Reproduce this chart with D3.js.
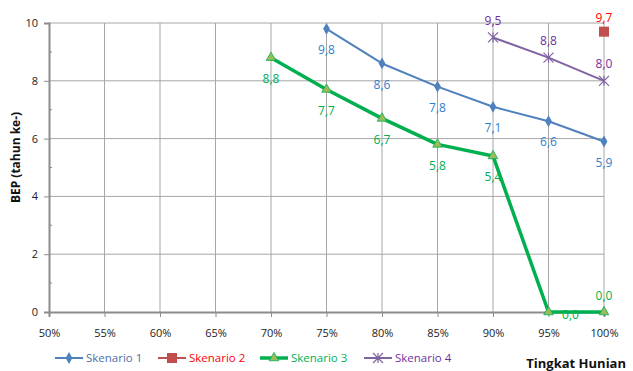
<!DOCTYPE html>
<html>
<head>
<meta charset="utf-8">
<script src="https://cdn.jsdelivr.net/npm/d3@7"></script>
<style>
  html, body { margin: 0; padding: 0; background: #fff; }
  svg { display: block; }
  text { font-family: "Open Sans", "Liberation Sans", sans-serif; }
</style>
</head>
<body>
<svg id="chart" width="633" height="371"></svg>
<script>
// Occupancy levels (x) and BEP year (y) for each scenario
const occupancy = [0.50, 0.55, 0.60, 0.65, 0.70, 0.75, 0.80, 0.85, 0.90, 0.95, 1.00];
const xTickLabels = ["50%", "55%", "60%", "65%", "70%", "75%", "80%", "85%", "90%", "95%", "100%"];
const yTicks = [0, 2, 4, 6, 8, 10];

const skenario1X = [0.75, 0.80, 0.85, 0.90, 0.95, 1.00];
const skenario1Y = [9.8, 8.6, 7.8, 7.1, 6.6, 5.9];
const skenario2X = [1.00];
const skenario2Y = [9.7];
const skenario3X = [0.70, 0.75, 0.80, 0.85, 0.90, 0.95, 1.00];
const skenario3Y = [8.8, 7.7, 6.7, 5.8, 5.4, 0.0, 0.0];
const skenario4X = [0.90, 0.95, 1.00];
const skenario4Y = [9.5, 8.8, 8.0];
const seriesNames = ["Skenario 1", "Skenario 2", "Skenario 3", "Skenario 4"];

const svg = d3.select("#chart");
const plotLeft = 49, plotRight = 604, plotTop = 23, plotBottom = 312;

const x = d3.scaleLinear().domain([0.5, 1.0]).range([plotLeft, plotRight]);
const y = d3.scaleLinear().domain([0, 10]).range([plotBottom, plotTop]);

const gridColor = "#a6a6a6";
const axisColor = "#8c8c8c";

// Gridlines
svg.append("g").selectAll("line").data(occupancy.slice(1)).join("line")
  .attr("x1", d => x(d)).attr("x2", d => x(d))
  .attr("y1", plotTop).attr("y2", plotBottom)
  .attr("stroke", gridColor).attr("stroke-width", 1);
svg.append("g").selectAll("line").data(yTicks.slice(1)).join("line")
  .attr("x1", plotLeft).attr("x2", plotRight)
  .attr("y1", d => y(d)).attr("y2", d => y(d))
  .attr("stroke", gridColor).attr("stroke-width", 1);

// Y axis
const yAxis = d3.axisLeft(y).tickValues(yTicks).tickSize(5).tickPadding(6).tickFormat(d3.format("d"));
const gy = svg.append("g").attr("transform", `translate(${plotLeft},0)`).call(yAxis);
gy.select(".domain").attr("stroke", axisColor).attr("stroke-width", 2);
gy.selectAll(".tick line").attr("stroke", axisColor);
gy.selectAll(".tick text").attr("font-size", 11).attr("fill", "#222");
// minor ticks
svg.append("g").selectAll("line").data([1, 3, 5, 7, 9]).join("line")
  .attr("x1", plotLeft).attr("x2", plotLeft + 3)
  .attr("y1", d => y(d)).attr("y2", d => y(d))
  .attr("stroke", axisColor);

// X axis
const xAxis = d3.axisBottom(x).tickValues(occupancy).tickSize(5).tickPadding(12)
  .tickFormat((d, i) => xTickLabels[i]);
const gx = svg.append("g").attr("transform", `translate(0,${plotBottom})`).call(xAxis);
gx.select(".domain").attr("stroke", axisColor).attr("stroke-width", 2);
gx.selectAll(".tick line").attr("stroke", axisColor);
gx.selectAll(".tick text").attr("font-size", 11).attr("fill", "#222");

// Axis titles
svg.append("text")
  .attr("transform", `translate(20,${(plotTop + plotBottom) / 2 - 10}) rotate(-90)`)
  .attr("text-anchor", "middle").attr("font-size", 12).attr("font-weight", "bold").attr("fill", "#111")
  .text("BEP (tahun ke-)");
svg.append("text")
  .attr("x", 626).attr("y", 368).attr("text-anchor", "end")
  .attr("font-size", 13).attr("font-weight", "bold").attr("fill", "#111")
  .text("Tingkat Hunian");

const line = d3.line().x(d => x(d[0])).y(d => y(d[1]));
const fmt = v => d3.format(".1f")(v).replace(".", ",");

function drawMarker(g, type, cx, cy, color, fill) {
  if (type === "diamond") {
    g.append("path").attr("d", d3.symbol(d3.symbolDiamond, 40)())
      .attr("transform", `translate(${cx},${cy})`).attr("fill", color);
  } else if (type === "square") {
    g.append("rect").attr("x", cx - 5).attr("y", cy - 5).attr("width", 10).attr("height", 10).attr("fill", color);
  } else if (type === "triangle") {
    g.append("path").attr("d", d3.symbol(d3.symbolTriangle, 40)())
      .attr("transform", `translate(${cx},${cy})`).attr("fill", fill).attr("stroke", color).attr("stroke-width", 0.8);
  } else if (type === "star") {
    const r = 5;
    g.append("path")
      .attr("d", `M${cx - r},${cy - r}L${cx + r},${cy + r}M${cx - r},${cy + r}L${cx + r},${cy - r}M${cx},${cy - r}L${cx},${cy + r}`)
      .attr("stroke", color).attr("stroke-width", 1.2).attr("fill", "none");
  }
}

const series = [
  { xs: skenario1X, ys: skenario1Y, color: "#4f81bd", label: "#2f7fcf", width: 2, marker: "diamond", dy: d => 21, dx: () => 0 },
  { xs: skenario2X, ys: skenario2Y, color: "#c0504d", label: "#ff0000", width: 2, marker: "square", dy: d => -14, dx: () => 0 },
  { xs: skenario3X, ys: skenario3Y, color: "#00b050", label: "#00b050", width: 3.5, marker: "triangle", fill: "#9bbb59",
    dy: (d, i) => i === 6 ? -16 : (i === 5 ? 3 : 21), dx: (d, i) => i === 5 ? 22 : 0 },
  { xs: skenario4X, ys: skenario4Y, color: "#8064a2", label: "#7030a0", width: 2, marker: "star", dy: d => -17, dx: () => 0 }
];

series.forEach(s => {
  const pts = s.xs.map((v, i) => [v, s.ys[i]]);
  const g = svg.append("g");
  if (pts.length > 1) {
    g.append("path").datum(pts).attr("d", line)
      .attr("fill", "none").attr("stroke", s.color).attr("stroke-width", s.width).attr("stroke-linejoin", "round");
  }
  pts.forEach(p => drawMarker(g, s.marker, x(p[0]), y(p[1]), s.color, s.fill));
  g.selectAll("text").data(pts).join("text")
    .attr("x", (d, i) => x(d[0]) + s.dx(d, i))
    .attr("y", (d, i) => y(d[1]) + s.dy(d, i))
    .attr("dy", "0.35em")
    .attr("text-anchor", "middle").attr("font-size", 12).attr("fill", s.label)
    .text(d => fmt(d[1]));
});

// Legend
const legendY = 358;
const legendItems = [
  { x0: 55, tx: 86, color: "#4f81bd", text: "#4f6fa8", width: 2, marker: "diamond" },
  { x0: 158, tx: 189, color: "#c0504d", text: "#ff0000", width: 2, marker: "square" },
  { x0: 260, tx: 291, color: "#00b050", text: "#00b050", width: 3.5, marker: "triangle", fill: "#9bbb59" },
  { x0: 364, tx: 395, color: "#8064a2", text: "#7030a0", width: 2, marker: "star" }
];
legendItems.forEach((it, i) => {
  const g = svg.append("g");
  g.append("line").attr("x1", it.x0).attr("x2", it.x0 + 28).attr("y1", legendY).attr("y2", legendY)
    .attr("stroke", it.color).attr("stroke-width", it.width);
  drawMarker(g, it.marker, it.x0 + 14, legendY, it.color, it.fill);
  g.append("text").attr("x", it.tx).attr("y", legendY).attr("dy", "0.35em")
    .attr("font-size", 11.5).attr("fill", it.text).text(seriesNames[i]);
});
</script>
</body>
</html>
